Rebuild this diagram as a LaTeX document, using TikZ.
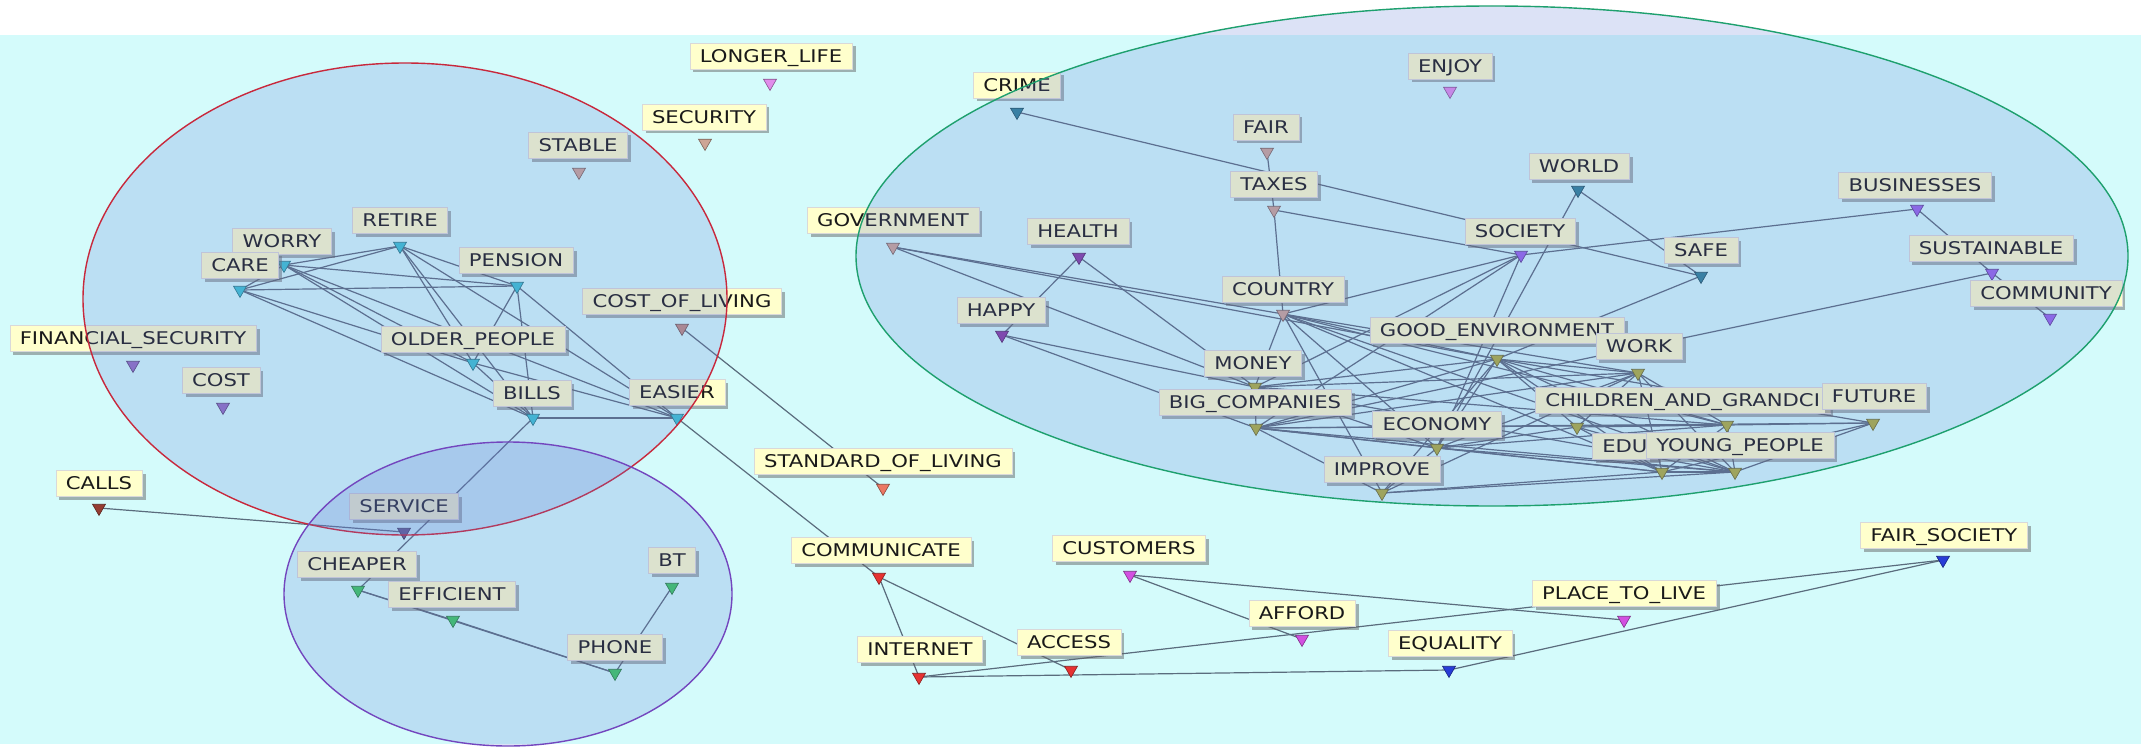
\documentclass[tikz,border=0pt]{standalone}
\usepackage{fontspec}
\setmainfont{DejaVu Sans}[FakeStretch=1.21]
\usetikzlibrary{shapes.geometric,shadows}
\pgfdeclarelayer{bglayer}
\pgfdeclarelayer{edgelayer}
\pgfdeclarelayer{themelayer}
\pgfsetlayers{bglayer,edgelayer,main,themelayer}
\definecolor{bgcyan}{RGB}{212,251,251}
\definecolor{labfill}{RGB}{255,255,204}
\definecolor{edgecol}{RGB}{90,108,125}
\definecolor{themefill}{RGB}{100,125,215}
\definecolor{redring}{RGB}{200,40,60}
\definecolor{purpring}{RGB}{115,70,190}
\definecolor{greenring}{RGB}{30,160,110}
\definecolor{cCyan}{RGB}{60,195,210}
\definecolor{cTan}{RGB}{205,165,150}
\definecolor{cTanB}{RGB}{190,140,130}
\definecolor{cSalmon}{RGB}{235,120,100}
\definecolor{cLav}{RGB}{225,140,235}
\definecolor{cPurp}{RGB}{145,110,195}
\definecolor{cBrown}{RGB}{150,60,50}
\definecolor{cSlate}{RGB}{95,85,135}
\definecolor{cGreen}{RGB}{60,200,95}
\definecolor{cTeal}{RGB}{45,130,150}
\definecolor{cViolet}{RGB}{135,60,165}
\definecolor{cLilac}{RGB}{150,100,235}
\definecolor{cOlive}{RGB}{175,175,60}
\definecolor{cRed}{RGB}{230,50,50}
\definecolor{cMag}{RGB}{210,80,225}
\definecolor{cBlue}{RGB}{40,60,215}
\tikzset{
  lab/.style={fill=labfill, draw=black!15, line width=0.5pt,
    font=\fontsize{17.5}{18}\selectfont, text=black!90,
    inner xsep=10pt, inner ysep=0pt, minimum height=26pt,
    text height=12.8pt, text depth=0pt,
    drop shadow={shadow xshift=3.5pt, shadow yshift=-3.5pt, fill=black!60, opacity=0.5}},
  tri/.style={regular polygon, regular polygon sides=3, shape border rotate=180,
    minimum size=15pt, inner sep=0pt, line width=0.6pt},
  link/.style={draw=edgecol, line width=1.2pt},
  theme/.style={fill=themefill, fill opacity=0.22, line width=1.4pt}
}
\newcommand{\mytri}[4]{\node[tri, fill=#4, draw=#4!60!black] (#1) at (#2,#3) {};}
\newcommand{\mylab}[4]{\node[lab] (#1-l) at (#2,#3) {#4};}
\begin{document}
\begin{tikzpicture}[x=1pt,y=-1pt]
\useasboundingbox (0,0) rectangle (2141,749);
\begin{pgfonlayer}{bglayer}
\fill[white] (0,0) rectangle (2141,749);
\fill[bgcyan] (0,35) rectangle (2141,744);
\end{pgfonlayer}
% triangles
\mytri{ll}{770}{83}{cLav}
\mytri{sec}{705}{143}{cTan}
\mytri{stab}{579}{172}{cTan}
\mytri{ret}{400}{246}{cCyan}
\mytri{wor}{284}{265}{cCyan}
\mytri{care}{240}{290}{cCyan}
\mytri{pen}{517}{286}{cCyan}
\mytri{col}{682}{328}{cTanB}
\mytri{fin}{133}{365}{cPurp}
\mytri{cost}{223}{407}{cPurp}
\mytri{old}{473}{363}{cCyan}
\mytri{bills}{533}{418}{cCyan}
\mytri{eas}{677}{418}{cCyan}
\mytri{calls}{99}{508}{cBrown}
\mytri{serv}{404}{532}{cSlate}
\mytri{cheap}{358}{590}{cGreen}
\mytri{eff}{453}{620}{cGreen}
\mytri{bt}{672}{587}{cGreen}
\mytri{phone}{615}{673}{cGreen}
\mytri{sol}{883}{488}{cSalmon}
\mytri{crime}{1017}{112}{cTeal}
\mytri{enjoy}{1450}{91}{cLav}
\mytri{fair}{1267}{152}{cTan}
\mytri{tax}{1274}{210}{cTan}
\mytri{gov}{893}{247}{cTan}
\mytri{health}{1079}{257}{cViolet}
\mytri{happy}{1002}{335}{cViolet}
\mytri{country}{1283}{314}{cTan}
\mytri{money}{1255}{387}{cOlive}
\mytri{bigc}{1256}{428}{cOlive}
\mytri{econ}{1437}{448}{cOlive}
\mytri{impr}{1382}{493}{cOlive}
\mytri{genv}{1497}{359}{cOlive}
\mytri{work}{1638}{373}{cOlive}
\mytri{tx}{1577}{427}{cOlive}
\mytri{child}{1727}{425}{cOlive}
\mytri{fut}{1873}{423}{cOlive}
\mytri{edu}{1662}{472}{cOlive}
\mytri{young}{1735}{472}{cOlive}
\mytri{soc}{1521}{255}{cLilac}
\mytri{world}{1578}{190}{cTeal}
\mytri{safe}{1701}{276}{cTeal}
\mytri{bus}{1917}{209}{cLilac}
\mytri{sust}{1992}{273}{cLilac}
\mytri{comm}{2050}{318}{cLilac}
\mytri{cmc}{879}{577}{cRed}
\mytri{cust}{1130}{575}{cMag}
\mytri{fsoc}{1943}{560}{cBlue}
\mytri{ptl}{1624}{620}{cMag}
\mytri{aff}{1302}{639}{cMag}
\mytri{eq}{1449}{670}{cBlue}
\mytri{inet}{919}{677}{cRed}
\mytri{acc}{1071}{670}{cRed}
% labels
\mylab{ll}{771}{56}{LONGER\_LIFE}
\mylab{sec}{704}{117}{SECURITY}
\mylab{stab}{578}{145}{STABLE}
\mylab{ret}{400}{220}{RETIRE}
\mylab{wor}{282}{241}{WORRY}
\mylab{care}{240}{265}{CARE}
\mylab{pen}{516}{260}{PENSION}
\mylab{col}{682}{301}{COST\_OF\_LIVING}
\mylab{fin}{133}{338}{FINANCIAL\_SECURITY}
\mylab{cost}{221}{380}{COST}
\mylab{old}{473}{339}{OLDER\_PEOPLE}
\mylab{bills}{532}{393}{BILLS}
\mylab{eas}{677}{392}{EASIER}
\mylab{calls}{99}{483}{CALLS}
\mylab{serv}{404}{506}{SERVICE}
\mylab{cheap}{357}{564}{CHEAPER}
\mylab{eff}{452}{594}{EFFICIENT}
\mylab{bt}{672}{560}{BT}
\mylab{phone}{615}{647}{PHONE}
\mylab{sol}{883}{461}{STANDARD\_OF\_LIVING}
\mylab{crime}{1017}{85}{CRIME}
\mylab{enjoy}{1450}{66}{ENJOY}
\mylab{fair}{1266}{127}{FAIR}
\mylab{tax}{1274}{184}{TAXES}
\mylab{gov}{893}{220}{GOVERNMENT}
\mylab{health}{1078}{231}{HEALTH}
\mylab{happy}{1001}{310}{HAPPY}
\mylab{country}{1283}{289}{COUNTRY}
\mylab{money}{1253}{363}{MONEY}
\mylab{bigc}{1255}{402}{BIG\_COMPANIES}
\mylab{econ}{1437}{424}{ECONOMY}
\mylab{impr}{1382}{469}{IMPROVE}
\mylab{genv}{1497}{330}{GOOD\_ENVIRONMENT}
\mylab{work}{1639}{346}{WORK}
\node[lab, anchor=west] (child-l) at (1535,400) {CHILDREN\_AND\_GRANDCI};
\mylab{fut}{1874}{396}{FUTURE}
\node[lab, anchor=west] (edu-l) at (1592,446) {EDU};
\mylab{young}{1740}{445}{YOUNG\_PEOPLE}
\mylab{soc}{1520}{231}{SOCIETY}
\mylab{world}{1579}{166}{WORLD}
\mylab{safe}{1701}{250}{SAFE}
\mylab{bus}{1915}{185}{BUSINESSES}
\mylab{sust}{1991}{248}{SUSTAINABLE}
\mylab{comm}{2046}{293}{COMMUNITY}
\mylab{cmc}{881}{550}{COMMUNICATE}
\mylab{cust}{1129}{548}{CUSTOMERS}
\mylab{fsoc}{1944}{535}{FAIR\_SOCIETY}
\mylab{ptl}{1624}{593}{PLACE\_TO\_LIVE}
\mylab{aff}{1302}{613}{AFFORD}
\mylab{eq}{1450}{643}{EQUALITY}
\mylab{inet}{920}{649}{INTERNET}
\mylab{acc}{1069}{642}{ACCESS}
% connectors
\begin{pgfonlayer}{edgelayer}
\foreach \a/\b in {ret/wor, ret/care, ret/pen, ret/old, ret/bills, ret/eas,
  wor/care, wor/pen, wor/old, wor/bills, wor/eas, care/pen, care/bills, care/old,
  pen/old, pen/bills, pen/eas, old/bills, old/eas, bills/eas, bills/cheap,
  calls/serv, cheap/eff, eff/phone, cheap/phone, bt/phone, eas/cmc, col/sol,
  cmc/inet, cmc/acc, inet/eq, inet/fsoc, eq/fsoc, cust/aff, cust/ptl,
  crime/safe, fair/tax, tax/country, tax/soc, gov/country, gov/genv, gov/money,
  health/happy, health/money, happy/money, happy/bigc, country/money, country/soc,
  country/genv, country/work, country/econ, country/impr, country/child,
  country/young, country/edu, soc/money, soc/bigc, soc/econ, soc/bus,
  world/econ, world/safe, safe/genv, bus/sust, sust/comm, sust/bigc,
  money/bigc, money/genv, money/work, money/child, money/econ, money/young,
  bigc/impr, bigc/econ, bigc/genv, bigc/work, bigc/edu, bigc/young, bigc/child, bigc/fut,
  econ/impr, econ/genv, econ/work, econ/young, econ/edu, econ/child, econ/tx,
  impr/young, impr/edu, impr/genv, impr/work, genv/work, genv/child, genv/young,
  genv/edu, genv/tx, genv/fut, work/child, work/tx, work/edu, work/young,
  child/fut, child/young, child/edu, tx/child, tx/edu, tx/young,
  fut/young, fut/edu, edu/young}
  \draw[link] (\a.center) -- (\b.center);
\end{pgfonlayer}
% themes
\begin{pgfonlayer}{themelayer}
\path[theme, draw=redring] (405,299) ellipse [x radius=322pt, y radius=236pt];
\path[theme, draw=purpring] (508,594) ellipse [x radius=224pt, y radius=152pt];
\path[theme, draw=greenring] (1492,256) ellipse [x radius=636pt, y radius=250pt];
\end{pgfonlayer}
\end{tikzpicture}
\end{document}
